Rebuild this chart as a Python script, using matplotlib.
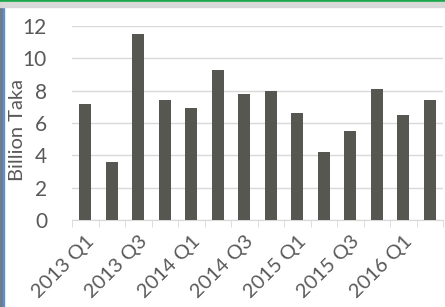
import matplotlib.pyplot as plt
from matplotlib.patches import Rectangle

# 분기별 값 (Billion Taka)
quarters = ["2013 Q1", "2013 Q2", "2013 Q3", "2013 Q4",
            "2014 Q1", "2014 Q2", "2014 Q3", "2014 Q4",
            "2015 Q1", "2015 Q2", "2015 Q3", "2015 Q4",
            "2016 Q1", "2016 Q2"]
values = [7.15, 3.6, 11.5, 7.4, 6.9, 9.25, 7.8, 8.0,
          6.6, 4.2, 5.5, 8.1, 6.5, 7.4]
yticks = [0, 2, 4, 6, 8, 10, 12]

plt.rcParams['font.family'] = ['Lato', 'DejaVu Sans']
txt = '#595959'

fig = plt.figure(figsize=(4.45, 3.07), dpi=100)
ax = fig.add_axes([72/445, 87/307, 371/445, 194/307])

x = list(range(len(quarters)))
ax.bar(x, values, width=0.46, color='#575752', zorder=3)

ax.set_xlim(-0.5, len(quarters) - 0.5)
ax.set_ylim(0, 12)
ax.set_yticks(yticks)
ax.set_yticklabels([str(v) for v in yticks], fontsize=15, color=txt)
ax.yaxis.grid(True, color='#d9d9d9', linewidth=1, zorder=0)
ax.tick_params(axis='y', length=0, pad=18)

# 라벨은 두 분기마다, 눈금은 카테고리 경계에
ax.set_xticks(x[::2])
ax.set_xticklabels(quarters[::2], rotation=45, ha='right',
                   rotation_mode='anchor', fontsize=14.5, color=txt)
ax.set_xticks([i - 0.5 for i in range(len(quarters) + 1)], minor=True)
ax.tick_params(axis='x', which='major', length=0, pad=9)
ax.tick_params(axis='x', which='minor', length=5, color='#d9d9d9')

for s in ['top', 'right', 'left']:
    ax.spines[s].set_visible(False)
ax.spines['bottom'].set_color('#d9d9d9')

ax.set_ylabel('Billion Taka', fontsize=14.5, color=txt)
ax.yaxis.set_label_coords(-0.124, 0.465)

# 스크린샷 테두리
fig.patches.append(Rectangle((0, 0), 2.5/445, 1, transform=fig.transFigure,
                             color='#6e7b89', zorder=10))
fig.patches.append(Rectangle((2.5/445, 0), 1.5/445, 1, transform=fig.transFigure,
                             color='#5b8fd0', zorder=10))
fig.patches.append(Rectangle((0, 1 - 2/307), 1, 2/307, transform=fig.transFigure,
                             color='#1aa64a', zorder=10))
fig.patches.append(Rectangle((0, 1 - 7/307), 1, 5/307, transform=fig.transFigure,
                             color='#d8d8d8', zorder=10))

fig.savefig('out.png', dpi=100)
